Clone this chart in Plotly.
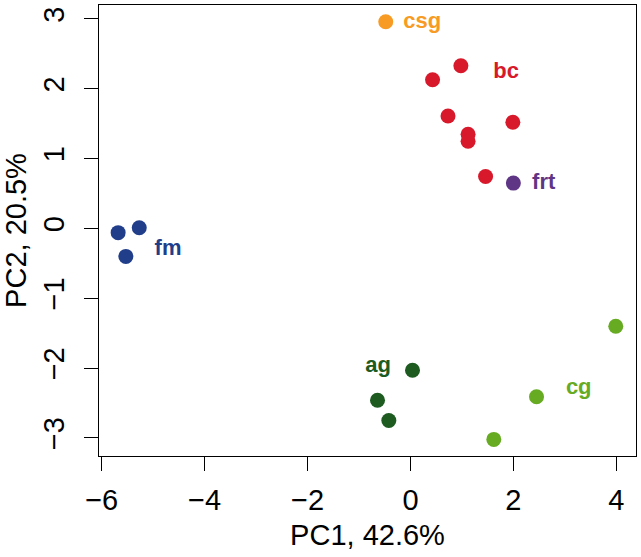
import plotly.graph_objects as go

groups = ["fm", "csg", "bc", "frt", "ag", "cg"]
colors = {"fm": "#213E8B", "csg": "#F79B24", "bc": "#D8192B", "frt": "#5F3686",
          "ag": "#1D5B21", "cg": "#67AB23"}
pc1 = {
    "fm": [-5.68, -5.27, -5.53],
    "csg": [-0.48],
    "bc": [0.98, 0.43, 0.73, 1.12, 1.12, 1.99, 1.46],
    "frt": [2.00],
    "ag": [0.04, -0.64, -0.42],
    "cg": [3.99, 2.45, 1.62],
}
pc2 = {
    "fm": [-0.06, 0.01, -0.40],
    "csg": [2.96],
    "bc": [2.33, 2.13, 1.61, 1.35, 1.25, 1.52, 0.745],
    "frt": [0.65],
    "ag": [-2.03, -2.46, -2.75],
    "cg": [-1.40, -2.41, -3.02],
}
label_x = {"fm": -4.71, "csg": 0.23, "bc": 1.86, "frt": 2.59, "ag": -0.63, "cg": 3.27}
label_y = {"fm": -0.30, "csg": 2.95, "bc": 2.24, "frt": 0.65, "ag": -1.97, "cg": -2.29}

x_ticks = [-6, -4, -2, 0, 2, 4]
y_ticks = [-3, -2, -1, 0, 1, 2, 3]
x_title = "PC1, 42.6%"
y_title = "PC2, 20.5%"

fig = go.Figure()
for g in groups:
    fig.add_trace(go.Scatter(
        x=pc1[g], y=pc2[g], mode="markers",
        marker=dict(size=15, color=colors[g], line=dict(width=0)),
        showlegend=False, name=g))
    fig.add_trace(go.Scatter(
        x=[label_x[g]], y=[label_y[g]], mode="text", text=[f"<b>{g}</b>"],
        textfont=dict(size=22, color=colors[g], family="Liberation Sans, Arial"),
        textposition="middle center", showlegend=False))

font = dict(family="Liberation Sans, Arial", size=29, color="black")
def fmt(v):
    return ("−" + str(-v)) if v < 0 else str(v)

common = dict(showgrid=False, zeroline=False, showline=True, mirror=True,
              linecolor="black", linewidth=1.3, ticks="outside", ticklen=14,
              tickwidth=1.3, tickcolor="black", tickfont=font, automargin=False)
fig.update_layout(
    width=641, height=557,
    margin=dict(l=99, r=5, t=5, b=101),
    paper_bgcolor="white", plot_bgcolor="white",
    font=font,
    xaxis=dict(range=[-6.052, 4.383], tickvals=x_ticks,
               ticktext=[fmt(v) for v in x_ticks], ticklabelstandoff=4,
               title=dict(text=x_title, font=font, standoff=9), **common),
    yaxis=dict(range=[-3.258, 3.2], tickvals=y_ticks,
               ticktext=[fmt(v) for v in y_ticks], tickangle=-90, ticklabelstandoff=8,
               title=dict(text=y_title, font=font, standoff=6), **common),
)
fig.write_html("out.html", config={"displayModeBar": False},
               post_script="document.body.style.margin='0';")
